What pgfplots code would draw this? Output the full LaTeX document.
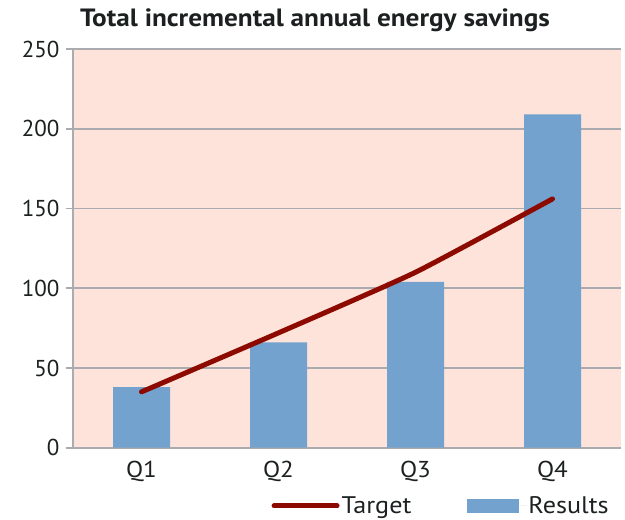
\documentclass[border=0pt]{standalone}
\usepackage{pgfplots}
\pgfplotsset{compat=1.18}
\usepackage{fontspec}
\setmainfont{PT Sans}
\newfontfamily\widefont{PT Sans}[FakeStretch=1.09]
\definecolor{bgpink}{HTML}{FDE3DA}
\definecolor{barblue}{HTML}{72A2CD}
\definecolor{linered}{HTML}{8C0A00}
\definecolor{gridgray}{HTML}{A9ABAE}
\definecolor{txt}{HTML}{1C2020}
\begin{document}
\begin{tikzpicture}
\useasboundingbox (0,0) rectangle (625pt,520pt);
\begin{axis}[
  at={(73pt,72.3pt)}, anchor=south west,
  scale only axis, width=548pt, height=398.7pt,
  xmin=-0.5, xmax=3.5, ymin=0, ymax=250,
  xtick={0,1,2,3}, xticklabels={Q1,Q2,Q3,Q4},
  ytick={0,50,100,150,200,250},
  axis background/.style={fill=bgpink},
  axis x line*=bottom, axis y line*=left,
  axis line style={draw=gridgray, line width=1.8pt, -},
  ymajorgrids, grid style={draw=gridgray, line width=1.8pt},
  major tick length=7pt, tick align=outside,
  ytick style={draw=gridgray, line width=1.8pt},
  xtick style={draw=none},
  tick label style={font=\fontsize{23}{27}\selectfont, text=txt},
  /pgf/number format/assume math mode=true,
  xticklabel style={yshift=-3pt, font=\widefont\fontsize{23}{27}\selectfont},
  yticklabel style={xshift=-3pt},
  legend style={at={(0.362,-0.146)}, anchor=west, draw=none, fill=none, inner sep=0pt,
    font=\widefont\fontsize{24}{28}\selectfont, text=txt, legend columns=2,
    /tikz/every even column/.append style={column sep=54pt},
    cells={anchor=west}},
  reverse legend,
]
\addplot[ybar, bar width=57pt, fill=barblue, draw=none, bar shift=0pt,
  legend image code/.code={\fill[barblue] (0pt,-7pt) rectangle (52pt,7pt); \path (0pt,0pt) -- (59pt,0pt);}]
  coordinates {(0,38) (1,66) (2,104) (3,209)};
\addlegendentry{Results}
\addplot[linered, line width=5pt, line cap=round, smooth, tension=0.3, mark=none,
  legend image code/.code={\draw[linered, line width=5pt, line cap=round] (2.5pt,0pt) -- (50pt,0pt); \path (0pt,0pt) -- (63pt,0pt);}]
  coordinates {(0,35) (1,72) (2,110) (3,156)};
\addlegendentry{Target}
\end{axis}
\node[anchor=base west, text=txt, font=\widefont\fontsize{25}{29}\selectfont\bfseries, inner sep=0pt] at (80pt,493.3pt) {Total incremental annual energy savings};
\end{tikzpicture}
\end{document}
